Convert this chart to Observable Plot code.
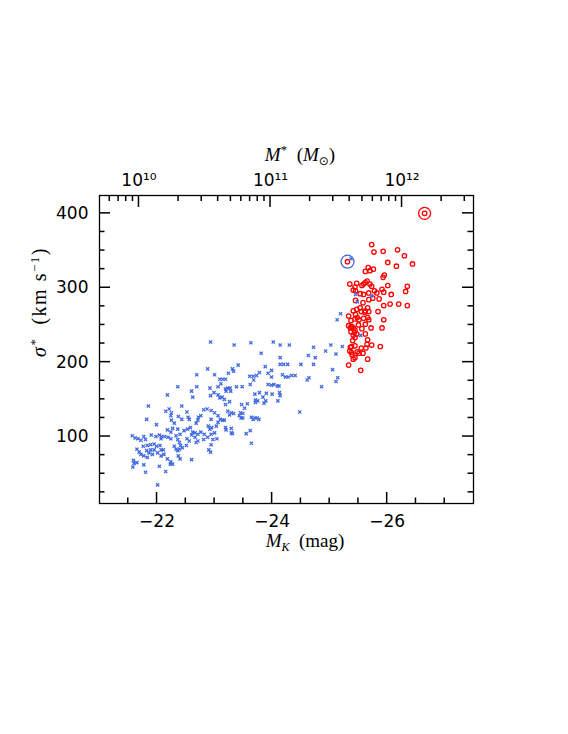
<!DOCTYPE html>
<html><head><meta charset="utf-8">
<script src="https://cdn.jsdelivr.net/npm/d3@7"></script>
<script src="https://cdn.jsdelivr.net/npm/@observablehq/plot@0.6"></script>
<style>
html,body{margin:0;padding:0;background:#fff;}
#chart{width:568px;height:734px;}
</style></head><body><div id="chart"></div>
<script>
// [M_K (mag), sigma* (km/s)]
const blueGalaxies = [
[-21.57,101],[-21.62,98],[-21.67,97],[-21.72,95],[-21.77,100],[-21.80,96],
[-21.59,68],[-21.60,64],[-21.58,59],[-21.65,65],[-21.77,62],[-21.80,52],
[-21.85,141],[-21.82,123],[-21.99,116],
[-21.90,102],[-21.98,100],[-22.04,102],[-22.08,100],[-22.13,100],[-22.07,97],
[-21.65,83],[-21.69,79],[-21.76,87],[-21.83,88],[-21.89,89],[-21.95,90],[-21.99,87],[-22.05,88],[-22.07,82],[-22.11,82],[-21.95,82],[-21.89,82],[-21.82,81],[-21.86,78],[-21.92,76],[-22.01,78],[-21.72,76],[-21.77,74],[-21.83,72],[-22.07,74],[-22.12,76],
[-22.04,60],[-22.15,53],[-22.01,35],
[-22.15,134],[-22.21,137],[-22.25,132],[-22.24,128],[-22.25,122],
[-22.37,127],[-22.43,123],[-22.43,141],
[-22.30,118],[-22.27,111],[-22.36,110],
[-22.18,109],[-22.24,106],[-22.19,99],[-22.24,97],
[-22.33,101],[-22.36,96],[-22.39,92],[-22.30,87],[-22.33,83],[-22.36,81],
[-22.41,88],[-22.44,85],[-22.39,83],
[-22.18,70],[-22.23,63],[-22.27,63],[-22.24,66],
[-22.37,74],[-22.40,70],
[-22.40,103],[-22.47,108],
[-22.36,167],[-22.18,156],
[-22.52,133],[-22.54,126],[-22.56,123],
[-22.53,110],[-22.58,112],[-22.62,106],[-22.60,102],[-22.66,99],[-22.71,94],[-22.52,97],[-22.56,94],[-22.51,88],
[-22.72,126],[-22.76,128],[-22.81,136],[-22.87,137],[-22.71,122],[-22.68,118],
[-22.66,105],[-22.71,103],[-22.76,106],[-22.82,103],[-22.81,96],[-22.88,99],[-22.94,103],[-22.97,96],[-23.04,97],[-23.00,105],[-22.89,114],[-22.92,110],[-22.95,112],
[-22.68,92],[-22.60,69],[-22.93,79],[-22.90,82],[-22.94,89],
[-22.94,135],[-23.00,132],[-23.06,128],[-23.10,123],[-23.06,119],[-22.94,123],[-23.03,114],
[-22.69,183],[-22.88,191],[-23.00,183],[-22.69,167],[-22.60,161],[-22.62,153],[-22.92,165],[-22.93,155],[-22.99,159],[-23.06,167],[-23.09,177],[-23.06,156],[-23.09,152],[-22.93,227],
[-23.34,223],[-23.63,226],[-24.02,227],[-24.14,223],[-24.30,223],[-24.72,220],
[-23.81,212],[-24.14,206],[-24.63,209],[-24.75,206],
[-24.14,197],[-24.20,197],[-24.27,197],[-24.50,197],[-24.72,197],
[-23.41,196],[-23.88,194],[-23.31,191],[-23.24,185],[-23.33,188],
[-23.99,189],[-23.93,185],[-23.99,180],
[-23.61,181],[-23.67,181],[-23.73,182],[-23.78,186],
[-24.18,183],[-24.23,180],[-24.28,180],[-24.34,182],[-24.40,182],
[-24.61,176],[-24.64,179],
[-23.14,177],[-23.19,177],[-23.11,171],
[-23.62,170],[-23.68,176],
[-23.23,165],[-23.27,165],[-23.19,164],[-23.20,161],[-23.28,161],
[-23.38,167],[-23.48,167],
[-23.93,170],[-23.99,169],[-24.03,170],[-24.09,168],[-24.12,168],
[-23.78,159],[-23.90,158],[-24.00,157],[-24.13,159],
[-23.70,157],[-23.71,149],[-23.75,148],[-23.71,146],[-23.84,153],[-23.89,148],[-23.86,145],
[-24.10,148],[-24.14,155],
[-23.13,153],[-23.17,150],[-23.26,147],
[-23.47,143],[-23.57,144],[-23.52,138],
[-23.19,143],[-23.23,134],[-23.29,132],[-23.33,131],[-23.26,129],
[-23.45,132],[-23.46,125],[-23.49,125],[-23.43,128],[-23.49,131],
[-23.64,126],[-23.67,123],[-23.70,125],[-23.74,125],[-23.77,123],
[-23.14,122],[-23.17,122],
[-24.48,133],
[-23.19,112],[-23.20,109],[-23.29,111],[-23.31,104],[-23.29,105],
[-23.55,104],[-23.62,108],[-23.64,91],
[-24.93,215],[-25.02,223],[-25.11,211],[-25.22,221],[-25.05,190],[-25.14,179],[-25.11,174],[-25.19,265],[-25.13,257],[-24.86,167],
[-25.45,291],[-25.48,281],[-25.73,289],[-25.54,236],[-25.37,339]
];
const redGalaxies = [
[-25.73,358],[-25.77,348],[-25.93,349],[-26.18,351],[-26.30,343],[-26.44,332],[-26.01,334],[-26.16,329],
[-25.62,322],[-25.67,327],[-25.70,323],[-25.76,325],
[-25.93,314],[-25.95,317],
[-25.35,305],
[-25.44,301],[-25.41,297],[-25.45,296],
[-25.56,303],[-25.59,305],[-25.62,307],[-25.65,309],
[-25.70,305],[-25.73,302],[-25.78,296],
[-26.01,303],
[-25.91,298],[-25.94,294],
[-26.35,302],[-26.32,295],
[-25.53,292],[-25.59,291],[-25.68,293],
[-25.82,293],[-25.86,285],
[-26.07,291],
[-25.68,284],[-25.75,286],
[-25.94,276],[-26.05,278],[-26.20,278],[-26.35,276],
[-25.84,268],
[-25.41,269],[-25.47,271],[-25.53,273],[-25.55,268],[-25.62,269],[-25.66,273],[-25.68,268],
[-25.33,262],[-25.37,256],[-25.44,258],[-25.48,260],[-25.51,257],[-25.59,259],[-25.66,260],[-25.68,257],
[-25.62,251],[-25.94,257],
[-25.33,249],[-25.36,246],[-25.38,248],[-25.41,246],[-25.44,243],
[-25.37,241],[-25.43,240],
[-25.72,246],[-25.91,246],
[-25.40,229],[-25.44,233],[-25.47,238],
[-25.62,238],[-25.66,230],[-25.65,224],
[-25.38,221],[-25.44,222],
[-25.55,219],[-25.63,219],[-25.73,223],
[-25.88,221],
[-25.35,215],[-25.38,213],[-25.44,206],[-25.41,204],
[-25.51,212],[-25.66,204],[-25.33,196],[-25.54,189],
[-25.45,264],[-25.61,267],[-25.41,236],[-25.36,220],[-25.48,214],[-25.58,212],[-25.39,210],
[-25.45,283],[-25.58,280],[-25.47,306],[-25.50,250],[-25.56,245],
[-25.31,335]
];
const blueHighlight = [[-25.31,335]];
const redHighlight = [[-26.65,400]];

const xDomain = [-21, -27.5];
const yDomain = [10, 424];
const xMajorTicks = [-22,-24,-26];
const xMinorTicks = [-21.5,-22.5,-23,-23.5,-24.5,-25,-25.5,-26.5,-27];
const yMajorTicks = [100,200,300,400];
const yMinorTicks = [25,50,75,125,150,175,225,250,275,325,350,375];
const massMajorTicks = [1e10,1e11,1e12];
const massMinorTicks = [6e9,7e9,8e9,9e9,2e10,3e10,4e10,5e10,6e10,7e10,8e10,9e10,2e11,3e11,4e11,5e11,6e11,7e11,8e11,9e11,2e12,3e12];
const massMajorLabels = ["10\u00b9\u2070","10\u00b9\u00b9","10\u00b9\u00b2"];

const MK_AT_1E10 = -21.686, MAG_PER_DEX = 2.286;
const mkFromMass = m => MK_AT_1E10 - MAG_PER_DEX*(Math.log10(m)-10);
const topMajor = massMajorTicks.map(mkFromMass);
const topMinor = massMinorTicks.map(mkFromMass);
const topLabel = new Map(topMajor.map((v,i)=>[v,massMajorLabels[i]]));

const BLUE = "#4169e1", RED = "#ff0000";
const W = 568, H = 734, ML = 99, MR = 95, MT = 195, MB = 231;
const FW = W - ML - MR, FH = H - MT - MB;
const MAJOR = 11, MINOR = 5.5, TW = 1.5;
// pixel sizes expressed in data units of each scale
const yPer = px => px * (yDomain[1] - yDomain[0]) / FH;
const xPer = px => px * (xDomain[1] - xDomain[0]) / FW;

// inward ticks as thin filled rects
const ticksX = (data, side, len) => Plot.rect(data, {
  x1: d => d - xPer(TW / 2), x2: d => d + xPer(TW / 2),
  y1: side === "bottom" ? yDomain[0] : yDomain[1],
  y2: side === "bottom" ? yDomain[0] + yPer(len) : yDomain[1] - yPer(len),
  fill: "black"
});
const ticksY = (data, side, len) => Plot.rect(data, {
  y1: d => d - yPer(TW / 2), y2: d => d + yPer(TW / 2),
  x1: side === "left" ? xDomain[0] : xDomain[1],
  x2: side === "left" ? xDomain[0] + xPer(len) : xDomain[1] - xPer(len),
  fill: "black"
});

const plot = Plot.plot({
  width: W, height: H,
  marginLeft: ML, marginRight: MR, marginTop: MT, marginBottom: MB,
  x: {domain: xDomain},
  y: {domain: yDomain},
  style: {fontFamily: "'DejaVu Sans', sans-serif", fontSize: "17px", color: "black", background: "white"},
  marks: [
    Plot.dot(redGalaxies, {x: d=>d[0], y: d=>d[1], r: 2.2, stroke: RED, strokeWidth: 1.3}),
    Plot.dot(blueGalaxies, {x: d=>d[0], y: d=>d[1], r: 1.6, symbol: "times", stroke: BLUE, strokeWidth: 1.3}),
    Plot.dot(blueHighlight, {x: d=>d[0], y: d=>d[1], r: 6.5, stroke: BLUE, strokeWidth: 1.3}),
    Plot.dot(redHighlight, {x: d=>d[0], y: d=>d[1], r: 6, stroke: RED, strokeWidth: 1.3}),
    Plot.dot(redHighlight, {x: d=>d[0], y: d=>d[1], r: 2.3, stroke: RED, strokeWidth: 1.3}),
    ticksX(xMajorTicks, "bottom", MAJOR),
    ticksX(xMinorTicks, "bottom", MINOR),
    ticksX(topMajor, "top", MAJOR + 1),
    ticksX(topMinor, "top", MINOR + 0.5),
    ticksY(yMajorTicks, "left", MAJOR),
    ticksY(yMinorTicks, "left", MINOR),
    ticksY(yMajorTicks, "right", MAJOR),
    ticksY(yMinorTicks, "right", MINOR),
    Plot.axisX(xMajorTicks, {anchor: "bottom", tickSize: 0, tickPadding: 11, tickFormat: d => "\u2212" + Math.abs(d), label: null}),
    Plot.axisX(topMajor, {anchor: "top", tickSize: 0, tickPadding: 10, tickFormat: d => topLabel.get(d), label: null}),
    Plot.axisY(yMajorTicks, {anchor: "left", tickSize: 0, tickPadding: 11, tickFormat: d => String(d), label: null}),
    Plot.frame({stroke: "black", strokeWidth: 1.3})
  ]
});

const svg = d3.select(plot);
const g = svg.append("g")
  .attr("font-family", "'Liberation Serif','DejaVu Serif',serif")
  .attr("font-size", 19).attr("fill", "black").style("white-space", "pre");

// top label
const t1 = g.append("text").attr("x", 300).attr("y", 161).attr("text-anchor", "middle");
t1.append("tspan").attr("font-style", "italic").text("M");
t1.append("tspan").attr("font-size", 13).attr("dy", -7).text("*");
t1.append("tspan").attr("dy", 7).text("  (");
t1.append("tspan").attr("font-style", "italic").text("M");
t1.append("tspan").attr("font-family", "'DejaVu Sans'").attr("font-size", 12).attr("dy", 4).text("\u2299");
t1.append("tspan").attr("dy", -4).text(")");

// bottom label
const t2 = g.append("text").attr("x", 305).attr("y", 547).attr("text-anchor", "middle");
t2.append("tspan").attr("font-style", "italic").text("M");
t2.append("tspan").attr("font-style", "italic").attr("font-size", 12).attr("dy", 4).text("K");
t2.append("tspan").attr("dy", -4).text("  (mag)");

// y label
const t3 = g.append("text").attr("transform", "translate(46,302) rotate(-90)")
  .attr("text-anchor", "middle").attr("font-size", 20).attr("letter-spacing", 1.5);
t3.append("tspan").attr("font-style", "italic").text("\u03c3");
t3.append("tspan").attr("font-size", 13).attr("dy", -7).text("*");
t3.append("tspan").attr("dy", 7).text("  (km s");
t3.append("tspan").attr("font-size", 13).attr("dy", -7).text("\u22121");
t3.append("tspan").attr("dy", 7).text(")");

document.getElementById("chart").appendChild(plot);
</script></body></html>
